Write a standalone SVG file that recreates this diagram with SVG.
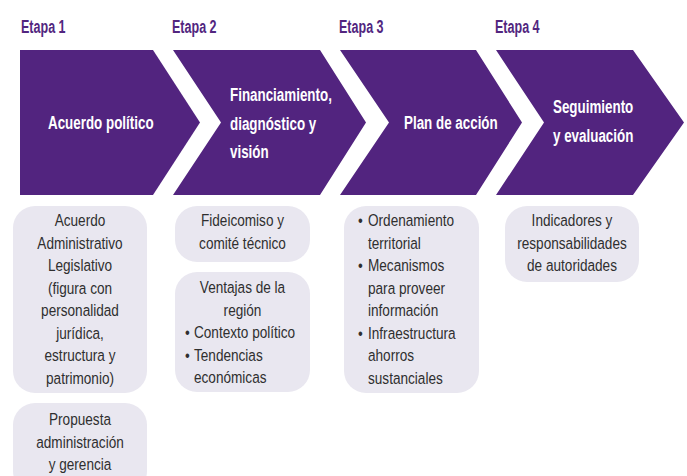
<svg xmlns="http://www.w3.org/2000/svg" width="687" height="476" viewBox="0 0 687 476">
<style>
.etapa{font-family:"Liberation Sans",Arial,sans-serif;font-weight:bold;font-size:19px;fill:#52267f}
.chev{fill:#52247f}
.ct{font-family:"Liberation Sans",Arial,sans-serif;font-weight:bold;font-size:19px;fill:#ffffff}
.box{fill:#e9e7f0}
.bt{font-family:"Liberation Sans",Arial,sans-serif;font-size:17px;fill:#2f2f2f}
.c{text-anchor:middle}
</style>
<rect width="687" height="476" fill="#ffffff"/>
<g id="stage1">
<text class="etapa" transform="translate(21,32.5) scale(0.66,1)">Etapa 1</text>
<polygon class="chev" points="20,50 153,50 200,122.5 153,195 20,195"/>
<text class="ct" transform="translate(48,129) scale(0.705,1)">Acuerdo político</text>
</g>
<g id="stage2">
<text class="etapa" transform="translate(172,32.5) scale(0.66,1)">Etapa 2</text>
<polygon class="chev" points="173,50 320,50 366,122.5 320,195 173,195 221,122.5"/>
<text class="ct" transform="translate(230,101) scale(0.705,1)">Financiamiento,</text>
<text class="ct" transform="translate(230,130) scale(0.705,1)">diagnóstico y</text>
<text class="ct" transform="translate(230,158) scale(0.705,1)">visión</text>
</g>
<g id="stage3">
<text class="etapa" transform="translate(339,32.5) scale(0.66,1)">Etapa 3</text>
<polygon class="chev" points="340,50 476,50 522,122.5 476,195 340,195 389,122.5"/>
<text class="ct" transform="translate(404,129) scale(0.705,1)">Plan de acción</text>
</g>
<g id="stage4">
<text class="etapa" transform="translate(495,32.5) scale(0.66,1)">Etapa 4</text>
<polygon class="chev" points="496,50 633,50 684,122.5 633,195 496,195 544,122.5"/>
<text class="ct" transform="translate(553,113) scale(0.705,1)">Seguimiento</text>
<text class="ct" transform="translate(553,142) scale(0.705,1)">y evaluación</text>
</g>
<g id="box1a">
<rect class="box" x="13" y="206" width="134" height="187" rx="22"/>
<text class="bt c" transform="translate(80,226) scale(0.8,1)">Acuerdo</text>
<text class="bt c" transform="translate(80,248.5) scale(0.8,1)">Administrativo</text>
<text class="bt c" transform="translate(80,271) scale(0.8,1)">Legislativo</text>
<text class="bt c" transform="translate(80,293.5) scale(0.8,1)">(figura con</text>
<text class="bt c" transform="translate(80,316) scale(0.8,1)">personalidad</text>
<text class="bt c" transform="translate(80,338.5) scale(0.8,1)">jurídica,</text>
<text class="bt c" transform="translate(80,361) scale(0.8,1)">estructura y</text>
<text class="bt c" transform="translate(80,383.5) scale(0.8,1)">patrimonio)</text>
</g>
<g id="box1b">
<rect class="box" x="13" y="403" width="134" height="90" rx="22"/>
<text class="bt c" transform="translate(80,425) scale(0.8,1)">Propuesta</text>
<text class="bt c" transform="translate(80,447.5) scale(0.8,1)">administración</text>
<text class="bt c" transform="translate(80,470) scale(0.8,1)">y gerencia</text>
</g>
<g id="box2a">
<rect class="box" x="175" y="206" width="135" height="56" rx="22"/>
<text class="bt c" transform="translate(242.5,226) scale(0.8,1)">Fideicomiso y</text>
<text class="bt c" transform="translate(242.5,248.5) scale(0.8,1)">comité técnico</text>
</g>
<g id="box2b">
<rect class="box" x="175" y="272" width="135" height="120" rx="22"/>
<text class="bt c" transform="translate(242.5,293) scale(0.8,1)">Ventajas de la</text>
<text class="bt c" transform="translate(242.5,315.5) scale(0.8,1)">región</text>
<text class="bt" transform="translate(185,338) scale(0.8,1)">•</text>
<text class="bt" transform="translate(194,338) scale(0.8,1)">Contexto político</text>
<text class="bt" transform="translate(185,360.5) scale(0.8,1)">•</text>
<text class="bt" transform="translate(194,360.5) scale(0.8,1)">Tendencias</text>
<text class="bt" transform="translate(194,383) scale(0.8,1)">económicas</text>
</g>
<g id="box3">
<rect class="box" x="344" y="206" width="135" height="187" rx="22"/>
<text class="bt" transform="translate(358,226) scale(0.8,1)">•</text>
<text class="bt" transform="translate(368,226) scale(0.8,1)">Ordenamiento</text>
<text class="bt" transform="translate(368,248.5) scale(0.8,1)">territorial</text>
<text class="bt" transform="translate(358,271) scale(0.8,1)">•</text>
<text class="bt" transform="translate(368,271) scale(0.8,1)">Mecanismos</text>
<text class="bt" transform="translate(368,293.5) scale(0.8,1)">para proveer</text>
<text class="bt" transform="translate(368,316) scale(0.8,1)">información</text>
<text class="bt" transform="translate(358,338.5) scale(0.8,1)">•</text>
<text class="bt" transform="translate(368,338.5) scale(0.8,1)">Infraestructura</text>
<text class="bt" transform="translate(368,361) scale(0.8,1)">ahorros</text>
<text class="bt" transform="translate(368,383.5) scale(0.8,1)">sustanciales</text>
</g>
<g id="box4">
<rect class="box" x="505" y="206" width="134" height="76" rx="22"/>
<text class="bt c" transform="translate(572,226) scale(0.8,1)">Indicadores y</text>
<text class="bt c" transform="translate(572,248.5) scale(0.8,1)">responsabilidades</text>
<text class="bt c" transform="translate(572,271) scale(0.8,1)">de autoridades</text>
</g>
<g id="connectors"></g>
</svg>
